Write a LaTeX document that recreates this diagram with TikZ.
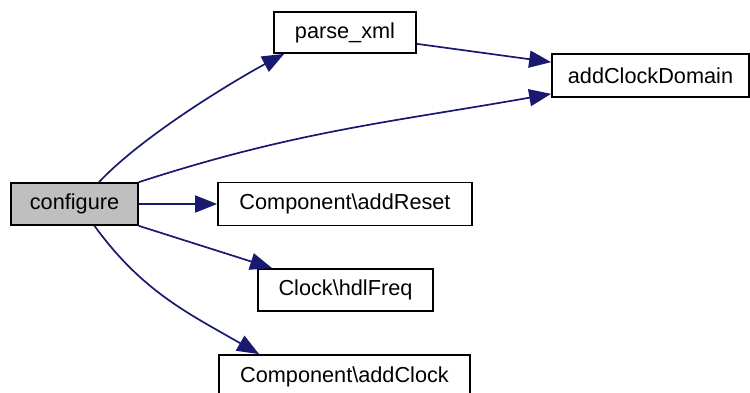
\documentclass[tikz,border=0pt]{standalone}
\usepackage{fontspec}
\setmainfont{Liberation Sans}
\usetikzlibrary{arrows.meta}
\definecolor{edgeblue}{HTML}{191970}
\definecolor{nodegray}{HTML}{BFBFBF}
\begin{document}
\begin{tikzpicture}[x=1pt,y=-1pt,
    fn/.style={draw,line width=1.7pt,inner sep=0pt,
      font=\fontsize{21.7}{26}\selectfont},
    call/.style={draw=edgeblue,line width=1.7pt,
      -{Triangle[length=22pt,width=17pt]}}]
  \useasboundingbox (0,0) rectangle (750,392);
  % caller and callees
  \node[fn,fill=nodegray,minimum width=127pt,minimum height=42pt] (configure) at (74.5,204) {configure};
  \node[fn,minimum width=142pt,minimum height=41pt] (parse) at (345,32.5) {parse\_xml};
  \node[fn,minimum width=197pt,minimum height=43pt] (domain) at (650.5,75.5) {addClockDomain};
  \node[fn,minimum width=254pt,minimum height=43pt] (reset) at (345,204) {Component\textbackslash addReset};
  \node[fn,minimum width=175pt,minimum height=42pt] (freq) at (345.5,290) {Clock\textbackslash hdlFreq};
  \node[fn,minimum width=251pt,minimum height=43pt] (clock) at (344.5,376.5) {Component\textbackslash addClock};
  % calls
  \begin{scope}[call]
    \draw ([xshift=24.5pt]configure.north) .. controls +(45,-48) and +(-45,24) .. ([xshift=11pt]parse.south west);
    \draw ([yshift=10pt]parse.south east) -- ([yshift=-9pt]domain.north west);
    \draw (configure.north east) to[out=18,in=190] ([yshift=4pt]domain.south west);
    \draw (configure.east) -- (reset.west);
    \draw (configure.south east) -- ([xshift=15pt]freq.north west);
    \draw ([xshift=20pt]configure.south) to[out=-54,in=150] ([xshift=41pt]clock.north west);
  \end{scope}
\end{tikzpicture}
\end{document}
